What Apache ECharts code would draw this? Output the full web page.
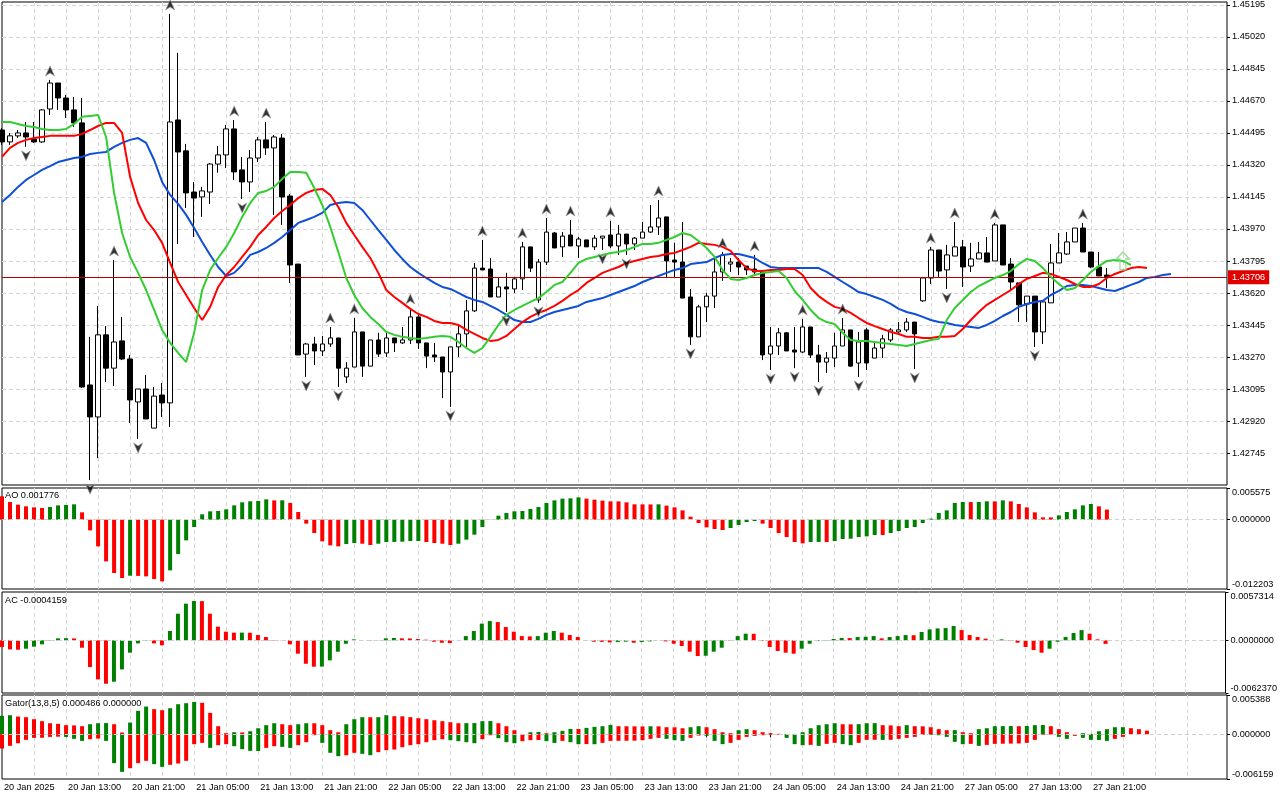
<!DOCTYPE html>
<html><head><meta charset="utf-8">
<script src="https://cdn.jsdelivr.net/npm/echarts@6/dist/echarts.min.js"></script>
<style>html,body{margin:0;padding:0;background:#fff}#c{width:1280px;height:800px}</style>
</head><body><div id="c"></div>
<script>
const timeLabels = ['20 Jan 2025','20 Jan 13:00','20 Jan 21:00','21 Jan 05:00','21 Jan 13:00','21 Jan 21:00','22 Jan 05:00','22 Jan 13:00','22 Jan 21:00','23 Jan 05:00','23 Jan 13:00','23 Jan 21:00','24 Jan 05:00','24 Jan 13:00','24 Jan 21:00','27 Jan 05:00','27 Jan 13:00','27 Jan 21:00'];

const opens = [1.44511,1.44446,1.44479,1.44495,1.44462,1.44446,1.44626,1.44768,1.44686,1.44621,
1.44550,1.43117,1.42942,1.43391,1.43209,1.43358,1.43259,1.43024,1.43095,1.42881,
1.43062,1.43019,1.44566,1.44397,1.44172,1.44145,1.44172,1.44325,1.44375,1.44517,
1.44293,1.44227,1.44358,1.44457,1.44413,1.44467,1.44150,1.43778,1.43286,1.43341,
1.43303,1.43341,1.43374,1.43161,1.43215,1.43407,1.43220,1.43363,1.43292,1.43374,
1.43347,1.43363,1.43489,1.43347,1.43281,1.43270,1.43188,1.43325,1.43396,1.43522,
1.43756,1.43751,1.43598,1.43653,1.43642,1.43697,1.43872,1.43582,1.43789,1.43948,
1.43872,1.43937,1.43877,1.43910,1.43872,1.43920,1.43937,1.43877,1.43942,1.43888,
1.43920,1.43953,1.43981,1.44036,1.43800,1.43789,1.43598,1.43380,1.43544,1.43603,
1.43735,1.43778,1.43789,1.43767,1.43751,1.43735,1.43286,1.43330,1.43402,1.43308,
1.43297,1.43434,1.43281,1.43242,1.43264,1.43330,1.43418,1.43237,1.43418,1.43264,
1.43319,1.43363,1.43407,1.43418,1.43461,1.43577,1.43702,1.43855,1.43746,1.43822,
1.43872,1.43767,1.43806,1.43839,1.43795,1.43992,1.43778,1.43675,1.43560,1.43603,
1.43407,1.43566,1.43784,1.43833,1.43899,1.43975,1.43844,1.43762,1.43718];
const highs = [1.44522,1.44495,1.44511,1.44555,1.44555,1.44626,1.44785,1.44768,1.44703,1.44692,
1.44686,1.43380,1.43549,1.43439,1.43800,1.43489,1.43281,1.43095,1.43172,1.43106,
1.43128,1.45146,1.44933,1.44435,1.44227,1.44200,1.44331,1.44424,1.44539,1.44566,
1.44364,1.44402,1.44473,1.44555,1.44484,1.44490,1.44161,1.43778,1.43347,1.43380,
1.43385,1.43434,1.43374,1.43242,1.43483,1.43407,1.43363,1.43402,1.43402,1.43374,
1.43434,1.43538,1.43500,1.43347,1.43347,1.43270,1.43325,1.43445,1.43582,1.43784,
1.43910,1.43811,1.43702,1.43730,1.43708,1.43899,1.43872,1.43806,1.44030,1.43953,
1.43953,1.44019,1.43926,1.43910,1.43937,1.43931,1.44014,1.43992,1.43942,1.43926,
1.44008,1.44101,1.44129,1.44036,1.43894,1.44008,1.43642,1.43555,1.43620,1.43811,
1.43844,1.43811,1.43811,1.43767,1.43828,1.43735,1.43434,1.43428,1.43407,1.43434,
1.43478,1.43434,1.43336,1.43297,1.43402,1.43483,1.43418,1.43407,1.43428,1.43352,
1.43391,1.43428,1.43461,1.43483,1.43461,1.43708,1.43872,1.43855,1.43883,1.44008,
1.43910,1.43894,1.43899,1.43926,1.44003,1.43992,1.43811,1.43675,1.43603,1.43603,
1.43577,1.43888,1.43948,1.43953,1.43975,1.44003,1.43844,1.43844,1.43756];
const lows = [1.44430,1.44430,1.44468,1.44419,1.44441,1.44441,1.44593,1.44621,1.44577,1.44528,
1.43100,1.42597,1.42717,1.43133,1.43111,1.43253,1.42909,1.42822,1.42931,1.42881,
1.42942,1.42887,1.43888,1.44085,1.43926,1.44036,1.44107,1.44277,1.44303,1.44238,
1.44134,1.44172,1.44336,1.44375,1.44047,1.43992,1.43675,1.43281,1.43161,1.43226,
1.43275,1.43325,1.43106,1.43128,1.43215,1.43161,1.43220,1.43270,1.43270,1.43297,
1.43341,1.43341,1.43314,1.43209,1.43242,1.43045,1.42997,1.43270,1.43325,1.43516,
1.43746,1.43598,1.43598,1.43516,1.43620,1.43636,1.43735,1.43566,1.43773,1.43866,
1.43817,1.43877,1.43811,1.43872,1.43855,1.43855,1.43866,1.43828,1.43828,1.43855,
1.43920,1.43948,1.43937,1.43702,1.43702,1.43592,1.43336,1.43380,1.43461,1.43538,
1.43686,1.43735,1.43718,1.43718,1.43718,1.43253,1.43199,1.43281,1.43303,1.43209,
1.43292,1.43264,1.43133,1.43183,1.43215,1.43330,1.43215,1.43161,1.43199,1.43264,
1.43264,1.43352,1.43391,1.43407,1.43204,1.43571,1.43669,1.43702,1.43642,1.43822,
1.43653,1.43735,1.43806,1.43789,1.43795,1.43773,1.43636,1.43461,1.43461,1.43325,
1.43341,1.43566,1.43784,1.43828,1.43899,1.43844,1.43756,1.43713,1.43647];
const closes = [1.44446,1.44479,1.44495,1.44473,1.44446,1.44621,1.44768,1.44686,1.44621,1.44550,
1.43106,1.42942,1.43391,1.43209,1.43352,1.43259,1.43035,1.43095,1.42931,1.43056,
1.43019,1.44555,1.44391,1.44167,1.44139,1.44178,1.44325,1.44375,1.44517,1.44282,
1.44227,1.44358,1.44457,1.44413,1.44473,1.44145,1.43773,1.43281,1.43341,1.43303,
1.43341,1.43374,1.43209,1.43209,1.43407,1.43220,1.43363,1.43286,1.43374,1.43347,
1.43363,1.43489,1.43347,1.43275,1.43270,1.43188,1.43325,1.43396,1.43522,1.43756,
1.43746,1.43598,1.43653,1.43642,1.43697,1.43872,1.43756,1.43789,1.43953,1.43866,
1.43931,1.43877,1.43915,1.43872,1.43920,1.43931,1.43877,1.43942,1.43888,1.43920,
1.43953,1.43981,1.44030,1.43795,1.43789,1.43592,1.43380,1.43544,1.43603,1.43735,
1.43828,1.43789,1.43762,1.43746,1.43735,1.43281,1.43330,1.43402,1.43303,1.43297,
1.43434,1.43281,1.43242,1.43264,1.43330,1.43418,1.43220,1.43352,1.43237,1.43319,
1.43369,1.43418,1.43418,1.43461,1.43396,1.43702,1.43855,1.43740,1.43828,1.43872,
1.43762,1.43806,1.43839,1.43789,1.43992,1.43773,1.43680,1.43555,1.43603,1.43407,
1.43571,1.43784,1.43839,1.43899,1.43975,1.43844,1.43762,1.43713,1.43706];

const jaw = [1.44118,1.44156,1.44200,1.44238,1.44265,1.44293,1.44314,1.44336,1.44347,1.44358,
1.44364,1.44380,1.44386,1.44391,1.44419,1.44441,1.44457,1.44467,1.44441,1.44347,
1.44227,1.44156,1.44107,1.44047,1.43975,1.43899,1.43828,1.43762,1.43713,1.43730,
1.43773,1.43828,1.43844,1.43866,1.43894,1.43926,1.43964,1.44003,1.44019,1.44036,
1.44058,1.44101,1.44112,1.44118,1.44112,1.44074,1.44019,1.43964,1.43910,1.43855,
1.43806,1.43762,1.43730,1.43702,1.43675,1.43653,1.43642,1.43620,1.43598,1.43582,
1.43571,1.43549,1.43527,1.43500,1.43472,1.43461,1.43461,1.43478,1.43500,1.43516,
1.43527,1.43538,1.43549,1.43571,1.43582,1.43592,1.43609,1.43625,1.43642,1.43658,
1.43680,1.43697,1.43713,1.43730,1.43746,1.43756,1.43778,1.43784,1.43789,1.43811,
1.43828,1.43833,1.43833,1.43822,1.43811,1.43784,1.43762,1.43756,1.43756,1.43756,
1.43756,1.43756,1.43756,1.43735,1.43708,1.43680,1.43653,1.43625,1.43614,1.43598,
1.43582,1.43560,1.43533,1.43516,1.43505,1.43489,1.43472,1.43461,1.43456,1.43445,
1.43439,1.43434,1.43429,1.43445,1.43467,1.43494,1.43516,1.43544,1.43560,1.43571,
1.43577,1.43609,1.43631,1.43658,1.43664,1.43664,1.43658,1.43647,1.43636,1.43631,
1.43647,1.43664,1.43680,1.43702,1.43708,1.43718,1.43724];
const teeth = [1.44364,1.44413,1.44441,1.44457,1.44467,1.44473,1.44479,1.44479,1.44479,1.44479,
1.44490,1.44511,1.44533,1.44550,1.44550,1.44495,1.44255,1.44112,1.44019,1.43964,
1.43894,1.43784,1.43680,1.43609,1.43538,1.43472,1.43544,1.43653,1.43718,1.43762,
1.43817,1.43872,1.43937,1.43981,1.44030,1.44068,1.44101,1.44139,1.44167,1.44183,
1.44189,1.44156,1.44090,1.44003,1.43937,1.43872,1.43811,1.43730,1.43636,1.43598,
1.43566,1.43533,1.43505,1.43489,1.43467,1.43456,1.43456,1.43445,1.43418,1.43396,
1.43374,1.43358,1.43363,1.43385,1.43423,1.43461,1.43489,1.43511,1.43527,1.43549,
1.43577,1.43609,1.43636,1.43675,1.43702,1.43730,1.43746,1.43762,1.43784,1.43795,
1.43806,1.43817,1.43822,1.43833,1.43839,1.43855,1.43872,1.43894,1.43888,1.43883,
1.43872,1.43850,1.43800,1.43756,1.43740,1.43740,1.43746,1.43746,1.43751,1.43751,
1.43718,1.43647,1.43603,1.43571,1.43544,1.43533,1.43511,1.43483,1.43456,1.43439,
1.43423,1.43407,1.43396,1.43380,1.43380,1.43374,1.43374,1.43380,1.43380,1.43385,
1.43423,1.43472,1.43516,1.43555,1.43582,1.43609,1.43636,1.43669,1.43697,1.43713,
1.43730,1.43724,1.43708,1.43691,1.43669,1.43653,1.43653,1.43669,1.43702,1.43724,
1.43740,1.43756,1.43762,1.43756];
const lips = [1.44555,1.44555,1.44544,1.44533,1.44528,1.44517,1.44511,1.44511,1.44517,1.44544,
1.44583,1.44588,1.44593,1.44473,1.44167,1.43948,1.43817,1.43730,1.43636,1.43527,
1.43418,1.43347,1.43292,1.43242,1.43402,1.43636,1.43746,1.43811,1.43872,1.43948,
1.44036,1.44112,1.44167,1.44178,1.44200,1.44244,1.44282,1.44282,1.44277,1.44194,
1.44101,1.43981,1.43844,1.43702,1.43609,1.43538,1.43489,1.43450,1.43407,1.43391,
1.43380,1.43374,1.43369,1.43374,1.43380,1.43385,1.43380,1.43352,1.43319,1.43292,
1.43319,1.43380,1.43445,1.43500,1.43527,1.43549,1.43571,1.43592,1.43625,1.43664,
1.43680,1.43730,1.43784,1.43806,1.43817,1.43828,1.43839,1.43844,1.43855,1.43872,
1.43888,1.43888,1.43894,1.43910,1.43926,1.43948,1.43937,1.43904,1.43866,1.43817,
1.43746,1.43697,1.43691,1.43702,1.43718,1.43730,1.43735,1.43740,1.43702,1.43631,
1.43582,1.43527,1.43483,1.43461,1.43450,1.43402,1.43363,1.43358,1.43358,1.43352,
1.43347,1.43341,1.43336,1.43330,1.43341,1.43352,1.43363,1.43369,1.43472,1.43538,
1.43582,1.43625,1.43658,1.43680,1.43702,1.43718,1.43740,1.43778,1.43806,1.43795,
1.43756,1.43708,1.43669,1.43636,1.43647,1.43691,1.43735,1.43767,1.43795,1.43800,
1.43795,1.43773];

const fractalUp = [6,14,21,29,33,41,44,51,60,65,68,71,76,82,90,94,100,105,116,119,124,135];
const fractalDown = [3,11,17,30,38,42,56,63,67,75,78,86,96,99,102,107,114,118,129];
const signalArrow = [[140, 1.43795]];

const ao = [0.00411,0.00311,0.00264,0.00235,0.00217,0.00205,0.00223,0.00252,0.00258,0.00270,
0.00129,-0.00188,-0.00470,-0.00734,-0.00939,-0.01027,-0.00986,-0.00990,-0.00998,-0.01045,
-0.01086,-0.00892,-0.00605,-0.00364,-0.00129,0.00094,0.00147,0.00153,0.00182,0.00252,
0.00305,0.00323,0.00329,0.00358,0.00340,0.00341,0.00294,0.00135,-0.00070,-0.00235,
-0.00382,-0.00452,-0.00470,-0.00429,-0.00411,-0.00423,-0.00446,-0.00423,-0.00393,-0.00392,
-0.00388,-0.00376,-0.00375,-0.00393,-0.00411,-0.00423,-0.00446,-0.00423,-0.00352,-0.00264,
-0.00129,0.00003,0.00070,0.00117,0.00147,0.00153,0.00188,0.00223,0.00294,0.00340,
0.00370,0.00376,0.00393,0.00370,0.00352,0.00335,0.00323,0.00322,0.00305,0.00270,
0.00269,0.00268,0.00270,0.00247,0.00217,0.00164,0.00053,-0.00059,-0.00135,-0.00164,
-0.00182,-0.00147,-0.00094,-0.00041,-0.00023,-0.00070,-0.00147,-0.00235,-0.00305,-0.00393,
-0.00417,-0.00393,-0.00392,-0.00394,-0.00376,-0.00340,-0.00335,-0.00305,-0.00294,-0.00270,
-0.00271,-0.00235,-0.00200,-0.00147,-0.00129,-0.00059,0.00018,0.00117,0.00164,0.00294,
0.00311,0.00310,0.00311,0.00323,0.00322,0.00340,0.00323,0.00276,0.00217,0.00129,
0.00041,0.00040,0.00076,0.00135,0.00182,0.00252,0.00276,0.00235,0.001776];
const ac = [-0.00079,-0.00107,-0.00111,-0.00099,-0.00075,-0.00047,0.00004,0.00024,0.00026,0.00023,
-0.00087,-0.00316,-0.00462,-0.00514,-0.00490,-0.00344,-0.00146,-0.00036,0.00004,-0.00036,
-0.00059,0.00111,0.00316,0.00435,0.00466,0.00465,0.00316,0.00162,0.00103,0.00091,
0.00092,0.00090,0.00063,0.00040,0.00004,-0.00002,-0.00047,-0.00158,-0.00277,-0.00312,
-0.00311,-0.00237,-0.00134,-0.00040,0.00012,-0.00002,-0.00004,0.00002,0.00024,0.00028,
0.00024,0.00023,0.00016,0.00008,-0.00016,-0.00028,-0.00032,0.00001,0.00051,0.00111,
0.00198,0.00229,0.00217,0.00158,0.00103,0.00051,0.00047,0.00051,0.00091,0.00111,
0.00091,0.00063,0.00040,-0.00004,-0.00016,-0.00018,-0.00024,-0.00020,-0.00016,-0.00028,
-0.00020,-0.00012,-0.00001,-0.00012,-0.00040,-0.00067,-0.00134,-0.00186,-0.00182,-0.00134,
-0.00087,0.00004,0.00051,0.00079,0.00078,-0.00008,-0.00079,-0.00126,-0.00146,-0.00158,
-0.00099,-0.00040,-0.00008,0.00004,0.00016,0.00028,0.00027,0.00040,0.00043,0.00051,
0.00024,0.00040,0.00051,0.00063,0.00061,0.00099,0.00130,0.00142,0.00146,0.00170,
0.00122,0.00063,0.00040,0.00020,-0.00001,0.00012,-0.00004,-0.00028,-0.00079,-0.00115,
-0.00146,-0.00099,-0.00016,0.00040,0.00087,0.00122,0.00079,0.00012,-0.0004159];
const gatorUp = [0.00252,0.00261,0.00243,0.00234,0.00206,0.00179,0.00151,0.00142,0.00124,0.00121,
0.00110,0.00137,0.00151,0.00153,0.00137,0.00023,0.00160,0.00321,0.00380,0.00344,
0.00330,0.00357,0.00412,0.00426,0.00444,0.00431,0.00293,0.00110,0.00014,0.00027,
0.00024,0.00041,0.00082,0.00124,0.00151,0.00137,0.00124,0.00137,0.00151,0.00150,
0.00124,0.00055,0.00027,0.00137,0.00206,0.00234,0.00233,0.00234,0.00261,0.00247,
0.00246,0.00234,0.00220,0.00206,0.00192,0.00179,0.00165,0.00151,0.00152,0.00153,
0.00179,0.00181,0.00151,0.00110,0.00055,0.00002,0.00027,0.00030,0.00014,0.00027,
0.00046,0.00073,0.00072,0.00087,0.00101,0.00110,0.00128,0.00110,0.00109,0.00108,
0.00107,0.00109,0.00108,0.00096,0.00095,0.00082,0.00096,0.00110,0.00096,0.00069,
0.00027,0.00014,0.00055,0.00069,0.00055,0.00027,0.00014,0.00005,0.00003,0.00004,
0.00027,0.00082,0.00124,0.00137,0.00151,0.00137,0.00136,0.00138,0.00151,0.00152,
0.00124,0.00121,0.00110,0.00124,0.00110,0.00108,0.00096,0.00069,0.00055,0.00056,
0.00027,0.00014,0.00069,0.00082,0.00110,0.00111,0.00112,0.00110,0.00113,0.00124,
0.00126,0.00110,0.00069,0.00027,0.00002,0.00014,0.00005,0.00041,0.00069,0.00096,
0.00097,0.00082,0.00069,0.000486];
const gatorDown = [-0.00197,-0.00160,-0.00124,-0.00078,-0.00050,-0.00049,-0.00037,-0.00034,-0.00037,-0.00064,
-0.00092,-0.00069,-0.00060,-0.00092,-0.00398,-0.00518,-0.00467,-0.00398,-0.00366,-0.00412,
-0.00449,-0.00421,-0.00403,-0.00366,-0.00137,-0.00119,-0.00188,-0.00151,-0.00137,-0.00165,
-0.00206,-0.00229,-0.00231,-0.00188,-0.00165,-0.00174,-0.00188,-0.00151,-0.00110,-0.00014,
-0.00119,-0.00256,-0.00302,-0.00289,-0.00256,-0.00270,-0.00289,-0.00247,-0.00220,-0.00211,
-0.00179,-0.00151,-0.00137,-0.00110,-0.00082,-0.00069,-0.00082,-0.00096,-0.00110,-0.00124,
-0.00069,-0.00014,-0.00055,-0.00110,-0.00124,-0.00096,-0.00082,-0.00080,-0.00096,-0.00120,
-0.00092,-0.00110,-0.00137,-0.00136,-0.00138,-0.00119,-0.00092,-0.00091,-0.00090,-0.00089,
-0.00082,-0.00064,-0.00050,-0.00064,-0.00082,-0.00092,-0.00050,-0.00018,-0.00023,-0.00092,
-0.00137,-0.00119,-0.00078,-0.00037,-0.00023,-0.00014,-0.00009,-0.00007,-0.00050,-0.00137,
-0.00151,-0.00147,-0.00160,-0.00133,-0.00119,-0.00137,-0.00151,-0.00119,-0.00078,-0.00077,
-0.00078,-0.00077,-0.00064,-0.00050,-0.00037,-0.00009,-0.00011,-0.00014,-0.00037,-0.00105,
-0.00137,-0.00133,-0.00160,-0.00147,-0.00133,-0.00131,-0.00129,-0.00127,-0.00119,-0.00078,
-0.00009,-0.00005,-0.00037,-0.00064,-0.00023,-0.00050,-0.00078,-0.00080,-0.00092,-0.00064,
-0.00037,-0.00005];

const priceAxis = {min: 1.42570, max: 1.45211, step: 0.00175};
const aoTicks = [-0.012203, 0, 0.005575];
const acTicks = [-0.0062370, 0, 0.0057314];
const gatorTicks = [-0.006159, 0, 0.005388];

// ---------------------------------------------------------------
const F = "'Liberation Sans', Arial, sans-serif";
const FS = 9.2;
const GREEN = '#008000', RED = '#ff0000';
const NCAT = 154;
const cats = Array.from({length: NCAT}, (_, i) => String(i));
const candles = opens.map((o, i) => [o, closes[i], lows[i], highs[i]]);
const colored = (arr, first) => arr.map((v, i) => ({value: v, itemStyle: {color: i === 0 ? first : (v > arr[i-1] ? GREEN : RED)}}));
const coloredAbs = (arr, first) => arr.map((v, i) => ({value: v, itemStyle: {color: i === 0 ? first : (Math.abs(v) > Math.abs(arr[i-1]) ? GREEN : RED)}}));
const fmt = d => v => (Math.abs(v) < 1e-12 ? (0).toFixed(d) : v.toFixed(d));
const gridLine = {color: '#d6d6d6', type: [4, 3], width: 1};

const grids = [
  {left: 2, right: 53, top: 2, height: 483},
  {left: 2, right: 53, top: 488, height: 101},
  {left: 2, right: 53, top: 592, height: 101},
  {left: 2, right: 53, top: 695, height: 84}
].map(g => Object.assign(g, {show: true, borderColor: '#000', borderWidth: 1, backgroundColor: 'transparent'}));

const xAxes = grids.map((g, k) => ({
  gridIndex: k, type: 'category', data: cats, boundaryGap: false,
  axisLine: {show: false},
  axisTick: k === 3 ? {show: true, length: 3, interval: i => i % 8 === 0 && i / 8 < timeLabels.length, lineStyle: {color: '#000'}} : {show: false},
  axisLabel: k === 3 ? {show: true, interval: i => i % 8 === 0 && i / 8 < timeLabels.length,
    formatter: (v, i) => timeLabels[i / 8] || '', align: 'left', margin: 4, padding: [0, 0, 0, 2],
    color: '#000', fontSize: FS, fontFamily: F} : {show: false},
  splitLine: {show: true, interval: i => i % 4 === 0, showMinLine: false, showMaxLine: false, lineStyle: gridLine}
}));

const subAxis = (k, ticks, d) => ({
  gridIndex: k, type: 'value', position: 'right', min: ticks[0], max: ticks[2], interval: -ticks[0],
  axisLine: {show: false}, axisTick: {show: true, length: 3, lineStyle: {color: '#000'}},
  axisLabel: {formatter: fmt(d), color: '#000', fontSize: FS, fontFamily: F, margin: 5,
    verticalAlignMaxLabel: 'top', verticalAlignMinLabel: 'bottom'},
  splitLine: {show: false}
});

const yAxes = [
  {gridIndex: 0, type: 'value', position: 'right', min: priceAxis.min, max: priceAxis.max, interval: priceAxis.step,
   axisLine: {show: false}, axisTick: {show: true, length: 3, lineStyle: {color: '#000'}},
   axisLabel: {showMinLabel: false, showMaxLabel: false, formatter: v => v.toFixed(5), color: '#000', fontSize: FS, fontFamily: F, margin: 5},
   splitLine: {show: true, showMinLine: false, showMaxLine: false, lineStyle: gridLine}},
  subAxis(1, aoTicks, 6),
  subAxis(2, acTicks, 7),
  subAxis(3, gatorTicks, 6)
];

const zeroLine = {silent: true, symbol: 'none', label: {show: false}, data: [{yAxis: 0}],
  lineStyle: {color: '#cfcfcf', type: [4, 3], width: 1}};

const upPath = 'path://M5,0 L10,10 L5,7 L0,10 Z';
const lastClose = closes[closes.length - 1];
const priceLine = {silent: true, symbol: 'none', precision: 5, data: [{yAxis: lastClose}],
  lineStyle: {color: '#b80000', width: 1, type: 'solid'},
  label: {show: true, position: 'end', distance: 1, formatter: () => lastClose.toFixed(5),
    color: '#fff', backgroundColor: '#e00000', padding: [3, 4, 2, 4], fontSize: FS, fontFamily: F}};

const series = [
  {type: 'candlestick', xAxisIndex: 0, yAxisIndex: 0, data: candles, barWidth: 5, z: 2,
   itemStyle: {color: '#ffffff', color0: '#000000', borderColor: '#000000', borderColor0: '#000000', borderWidth: 1}},
  {type: 'line', name: 'jaw', xAxisIndex: 0, yAxisIndex: 0, data: jaw, symbol: 'none', z: 3,
   lineStyle: {color: '#0f4fd8', width: 2}, markLine: priceLine},
  {type: 'line', name: 'teeth', xAxisIndex: 0, yAxisIndex: 0, data: teeth, symbol: 'none', z: 4,
   lineStyle: {color: '#ff0000', width: 2}},
  {type: 'line', name: 'lips', xAxisIndex: 0, yAxisIndex: 0, data: lips, symbol: 'none', z: 5,
   lineStyle: {color: '#32cd32', width: 2}},
  {type: 'scatter', xAxisIndex: 0, yAxisIndex: 0, z: 6, symbol: upPath, symbolSize: [9, 10], symbolOffset: [0, -9],
   data: fractalUp.map(i => [i, highs[i]]), itemStyle: {color: '#000', borderColor: '#9a9a9a', borderWidth: 0.8}},
  {type: 'scatter', xAxisIndex: 0, yAxisIndex: 0, z: 6, symbol: upPath, symbolRotate: 180, symbolSize: [9, 10], symbolOffset: [0, 9],
   data: fractalDown.map(i => [i, lows[i]]), itemStyle: {color: '#000', borderColor: '#9a9a9a', borderWidth: 0.8}},
  {type: 'scatter', xAxisIndex: 0, yAxisIndex: 0, z: 7, symbol: 'path://M6.5,0 L13,7 L9.5,7 L9.5,18 L3.5,18 L3.5,7 L0,7 Z',
   symbolSize: [13, 18], data: signalArrow, itemStyle: {color: 'rgba(0,0,0,0)', borderColor: '#86d886', borderWidth: 1.5}},
  {type: 'bar', xAxisIndex: 1, yAxisIndex: 1, data: colored(ao, RED), barWidth: 4, markLine: zeroLine},
  {type: 'bar', xAxisIndex: 2, yAxisIndex: 2, data: colored(ac, RED), barWidth: 4, markLine: zeroLine},
  {type: 'bar', xAxisIndex: 3, yAxisIndex: 3, data: coloredAbs(gatorUp, GREEN), barWidth: 4, barGap: '-100%'},
  {type: 'bar', xAxisIndex: 3, yAxisIndex: 3, data: coloredAbs(gatorDown, RED), barWidth: 4, barGap: '-100%', z: 3,
   markLine: Object.assign({}, zeroLine, {z: 10})}
];

const titleStyle = {fontSize: FS, fontWeight: 'normal', color: '#000', fontFamily: F};
const titles = [
  {text: 'AO ' + ao[ao.length - 1].toFixed(6), left: 5, top: 491, padding: 0, textStyle: titleStyle},
  {text: 'AC ' + ac[ac.length - 1].toFixed(7), left: 5, top: 596, padding: 0, textStyle: titleStyle},
  {text: 'Gator(13,8,5) ' + gatorUp[gatorUp.length - 1].toFixed(6) + ' ' + (0).toFixed(6), left: 5, top: 699, padding: 0, textStyle: titleStyle}
];

const chart = echarts.init(document.getElementById('c'));
chart.setOption({
  backgroundColor: '#ffffff', animation: false,
  title: titles, grid: grids, xAxis: xAxes, yAxis: yAxes, series: series
});
</script></body></html>
